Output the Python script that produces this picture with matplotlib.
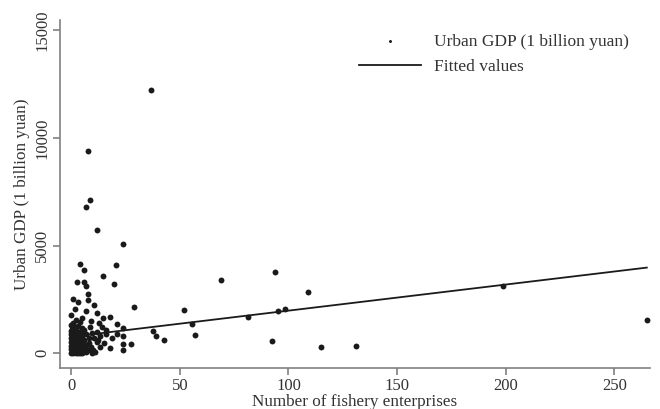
import matplotlib
matplotlib.use("Agg")
import matplotlib.pyplot as plt

plt.rcParams["font.family"] = ["Liberation Serif", "DejaVu Serif"]

# scatter points: number of fishery enterprises vs urban GDP
ent = [36.8, 7.8, 8.7, 6.8, 11.8, 23.6, 3.9, 5.7, 20.7, 14.7, 2.8, 5.7, 6.6, 19.8,
       7.8, 28.7, 51.7, 0.6, 2.9, 7.8, 10.6, 1.8, 6.8, 11.8, 0, 4.9, 18, 14.7,
       9.1, 12.6, 14, 20.9, 23.6, 15.8, 18.6, 20.9, 23.6, 17.8, 23.6, 23.6, 27.6,
       37.7, 39, 42.8, 55.8, 56.8, 68.8, 81.2, 92.2, 94, 95.3, 98.2, 109.2, 115.1,
       131.2, 199, 265, 13.2, 11.7, 9.7,
       8.5, 9.5, 10.5, 12, 13, 8, 9, 10, 11, 12.5, 15, 16, 6, 7, 8, 6.5, 7.5, 5.5,
       0, 0, 0, 0, 0, 0, 0, 0,
       0.5, 0.5, 0.5, 0.5, 0.5, 0.5, 0.5,
       1, 1, 1, 1, 1, 1, 1, 1,
       1.5, 1.5, 1.5, 1.5, 1.5, 1.5, 1.5,
       2, 2, 2, 2, 2, 2, 2, 2,
       2.5, 2.5, 2.5, 2.5, 2.5, 2.5,
       3, 3, 3, 3, 3, 3, 3,
       3.5, 3.5, 3.5, 3.5, 3.5, 3.5,
       4, 4, 4, 4, 4, 4,
       4.5, 4.5, 4.5, 4.5, 4.5,
       5, 5, 5, 5, 5,
       6, 6, 7, 7]
gdp = [12220, 9380, 7106, 6800, 5740, 5063, 4134, 3855, 4101, 3605, 3326, 3298, 3140, 3219,
       2768, 2137, 2025, 2536, 2369, 2462, 2257, 2044, 1979, 1858, 1779, 1654, 1700, 1626,
       1500, 1393, 1236, 1347, 1189, 1082, 725, 882, 804, 232, 432, 167, 432,
       1036, 818, 604, 1347, 864, 3420, 1670, 590, 3760, 1950, 2057, 2850, 295,
       355, 3110, 1560, 307, 539, 0,
       1200, 950, 700, 1000, 800, 500, 300, 150, 50, 600, 500, 900, 1100, 900, 700, 350, 150, 50,
       20, 180, 350, 520, 700, 880, 1050, 1300,
       90, 260, 430, 610, 790, 960, 1150,
       10, 170, 340, 500, 680, 850, 1020, 1400,
       80, 250, 420, 600, 770, 940, 1200,
       30, 200, 370, 540, 720, 890, 1080, 1550,
       110, 290, 460, 640, 810, 990,
       0, 160, 330, 510, 690, 870, 1250,
       70, 240, 410, 580, 760, 1000,
       20, 190, 360, 540, 720, 1450,
       100, 280, 470, 650, 900,
       0, 230, 420, 800, 1180,
       150, 600, 400, 50]

# fitted line endpoints
fit_x = [0, 265]
fit_y = [770, 3980]

x_ticks = [0, 50, 100, 150, 200, 250]
y_ticks = [0, 5000, 10000, 15000]

fig = plt.figure(figsize=(6.6, 4.09), dpi=100)
ax = fig.add_axes([0.0909, 0.1002, 0.894, 0.851])

ax.scatter(ent, gdp, s=18, color="#1a1a1a", linewidths=0, label="Urban GDP (1 billion yuan)")
ax.plot(fit_x, fit_y, color="#1a1a1a", lw=1.3, label="Fitted values")

ax.set_xlim(-5.2, 266.5)
ax.set_ylim(-683, 15480)
ax.set_xticks(x_ticks)
ax.set_yticks(y_ticks)
for lab in ax.get_yticklabels():
    lab.set_rotation(90)
    lab.set_va("center")

for s in ["top", "right"]:
    ax.spines[s].set_visible(False)
for s in ["left", "bottom"]:
    ax.spines[s].set_color("#808080")
    ax.spines[s].set_linewidth(1.2)
ax.tick_params(colors="#808080", labelcolor="#333333", length=5, width=1.2,
               labelsize=12, pad=2)

ax.set_xlabel("Number of fishery enterprises", fontsize=12.3, color="#333333", labelpad=0)
ax.set_ylabel("Urban GDP (1 billion yuan)", fontsize=12.3, color="#333333", labelpad=3)

ax.legend(loc="upper right", bbox_to_anchor=(0.99, 1.005), frameon=False, fontsize=12.5,
          markerscale=0.5, handlelength=3.6, handletextpad=0.7, labelspacing=0.5,
          labelcolor="#333333")

fig.savefig("out.png", dpi=100)
